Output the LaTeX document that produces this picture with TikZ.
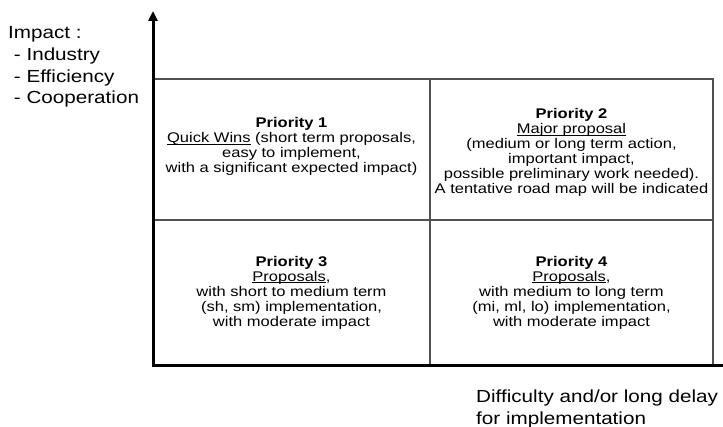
\documentclass[tikz,border=0pt]{standalone}
\usepackage{fontspec}
\setmainfont{Liberation Sans}[FakeStretch=1.18]
\usetikzlibrary{arrows.meta}
\definecolor{gridgray}{HTML}{505050}
% underline at a fixed depth below the baseline
\newcommand{\ulword}[1]{\setbox0\hbox{#1}\rlap{\rule[-1.8pt]{\wd0}{0.8pt}}\box0\relax}
\begin{document}
\begin{tikzpicture}[x=1pt,y=1pt,
  celltext/.style={align=center,inner sep=0pt,font=\fontsize{14}{15}\selectfont},
  axislabel/.style={align=left,inner sep=0pt,font=\fontsize{17.5}{21.7}\selectfont},
  gridline/.style={gridgray,line width=1.4pt},
  axis/.style={line width=3pt,black}]
\useasboundingbox (0,0) rectangle (723,427);

% quadrant grid
\draw[gridline] (153,348) -- (713,348) -- (713,61);
\draw[gridline] (430,348) -- (430,61);
\draw[gridline] (153,207) -- (713,207);

% quadrant texts
\node[celltext] (p1) at (291.5,280.5) {\textbf{Priority 1}\\\ulword{Quick Wins} (short term proposals,\\easy to implement,\\with a significant expected impact)};
\node[celltext] (p2) at (571.5,274.5) {\textbf{Priority 2}\\\ulword{Major proposal}\\(medium or long term action,\\important impact,\\possible preliminary work needed).\\A tentative road map will be indicated};
\node[celltext] (p3) at (291.5,134.5) {\textbf{Priority 3}\\\ulword{Proposals},\\with short to medium term\\(sh, sm) implementation,\\with moderate impact};
\node[celltext] (p4) at (571.5,134.5) {\textbf{Priority 4}\\\ulword{Proposals},\\with medium to long term\\(mi, ml, lo) implementation,\\with moderate impact};

% axes
\coordinate (origin) at (153,61);
\coordinate (ytop) at (153,416);
\coordinate (xend) at (723,61);
\draw[axis,-{Triangle[width=9pt,length=10pt]}] ([yshift=-1.5pt]origin) -- (ytop);
\draw[axis] ([xshift=-1.5pt]origin) -- (xend);

% axis labels (base anchor sits on the last line)
\node[axislabel,anchor=base west] (impact) at (8,323) {Impact :\\ \ - Industry\\ \ - Efficiency\\ \ - Cooperation};
\node[axislabel,anchor=base west] (difficulty) at (476,2.5) {Difficulty and/or long delay\\for implementation};
\end{tikzpicture}
\end{document}
